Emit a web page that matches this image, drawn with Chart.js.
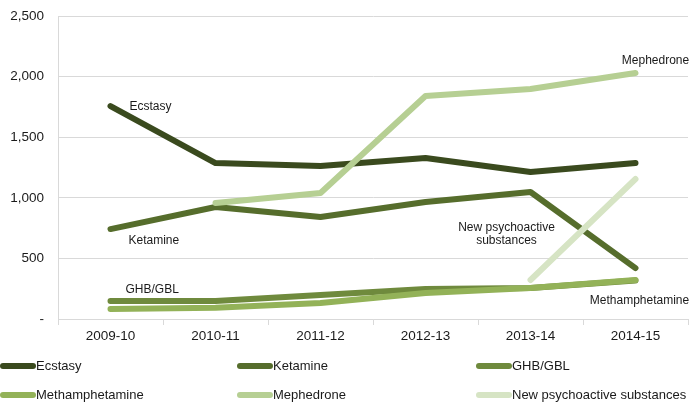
<!DOCTYPE html>
<html>
<head>
<meta charset="utf-8">
<script src="https://cdn.jsdelivr.net/npm/chart.js@4.4.1/dist/chart.umd.min.js"></script>
<style>
  html, body { margin: 0; padding: 0; background: #fff; }
  #wrap { width: 693px; height: 411px; }
</style>
</head>
<body>
<div id="wrap"><canvas id="chart" width="693" height="411"></canvas></div>
<script>
// data
const years = ['2009-10', '2010-11', '2011-12', '2012-13', '2013-14', '2014-15'];
const ecstasy = [1757, 1287, 1262, 1328, 1213, 1287];
const ketamine = [742, 924, 842, 965, 1048, 420];
const ghb = [148, 148, 198, 248, 255, 318];
const meth = [82, 92, 132, 215, 255, 322];
const mephedrone = [null, 957, 1040, 1840, 1898, 2030];
const nps = [null, null, null, null, 322, 1155];

const seriesNames = ['Ecstasy', 'Ketamine', 'GHB/GBL', 'Methamphetamine', 'Mephedrone', 'New psychoactive substances'];
const seriesColors = ['#3a4a1e', '#566d2c', '#6f8a3d', '#93b258', '#b6cf93', '#d6e4c4'];
const seriesValues = [ecstasy, ketamine, ghb, meth, mephedrone, nps];

const textColor = '#1a1a1a';
const gridColor = '#d9d9d9';

// labels next to the lines: [series index, point index, dx, dy, align, lines]
const lineLabels = [
  [0, 0, 19, 1, 'left', ['Ecstasy']],
  [1, 0, 18, 12, 'left', ['Ketamine']],
  [2, 0, 15, -11, 'left', ['GHB/GBL']],
  [4, 5, 20, -12, 'center', ['Mephedrone']],
  [5, 4, -24, -52, 'center', ['New psychoactive', 'substances']],
  [3, 5, 4, 21, 'center', ['Methamphetamine']]
];

const labelPlugin = {
  id: 'lineLabels',
  afterDatasetsDraw(chart) {
    const ctx = chart.ctx;
    ctx.save();
    ctx.font = '12px "Liberation Sans", Arial, sans-serif';
    ctx.fillStyle = textColor;
    ctx.textBaseline = 'middle';
    lineLabels.forEach(([s, p, dx, dy, align, lines]) => {
      const pt = chart.getDatasetMeta(s).data[p];
      ctx.textAlign = align;
      lines.forEach((t, k) => ctx.fillText(t, pt.x + dx, pt.y + dy + k * 13));
    });
    ctx.restore();
  }
};

// legend laid out in a 3 x 2 grid like the original
const legendPlugin = {
  id: 'gridLegend',
  afterDraw(chart) {
    const ctx = chart.ctx;
    const cols = [0, 237, 476];
    const rows = [366, 395];
    ctx.save();
    ctx.font = '13px "Liberation Sans", Arial, sans-serif';
    ctx.textBaseline = 'middle';
    ctx.textAlign = 'left';
    seriesNames.forEach((name, i) => {
      const x = cols[i % 3];
      const y = rows[Math.floor(i / 3)];
      ctx.strokeStyle = seriesColors[i];
      ctx.lineWidth = 6;
      ctx.lineCap = 'round';
      ctx.beginPath();
      ctx.moveTo(x + 3, y);
      ctx.lineTo(x + 33, y);
      ctx.stroke();
      ctx.fillStyle = textColor;
      ctx.fillText(name, x + 36, y);
    });
    ctx.restore();
  }
};

const datasets = seriesNames.map((name, i) => ({
  label: name,
  data: seriesValues[i],
  borderColor: seriesColors[i],
  backgroundColor: seriesColors[i],
  borderWidth: 6,
  borderCapStyle: 'round',
  borderJoinStyle: 'round',
  pointRadius: 0,
  tension: 0,
  order: seriesNames.length - i
}));

new Chart(document.getElementById('chart'), {
  type: 'line',
  data: { labels: years, datasets: datasets },
  options: {
    responsive: false,
    animation: false,
    layout: { padding: { top: 16, right: 5, bottom: 62, left: 0 } },
    plugins: {
      legend: { display: false },
      tooltip: { enabled: false }
    },
    scales: {
      x: {
        offset: true,
        grid: { offset: true, drawOnChartArea: false, color: gridColor, tickLength: 6 },
        border: { color: gridColor },
        ticks: { color: textColor, font: { family: '"Liberation Sans", Arial, sans-serif', size: 13.5 }, padding: 3, maxRotation: 0 },
        afterFit(scale) { scale.height = 30; }
      },
      y: {
        min: 0,
        max: 2500,
        grid: { color: gridColor, drawTicks: false },
        border: { color: gridColor },
        ticks: {
          stepSize: 500,
          padding: 14,
          color: textColor,
          font: { family: '"Liberation Sans", Arial, sans-serif', size: 13.5 },
          callback: v => v === 0 ? '-' : v.toLocaleString('en-US')
        },
        afterFit(scale) {
          scale.width = 58;
          scale.paddingTop = 0;
          scale.paddingBottom = 0;
        }
      }
    }
  },
  plugins: [labelPlugin, legendPlugin]
});
</script>
</body>
</html>
